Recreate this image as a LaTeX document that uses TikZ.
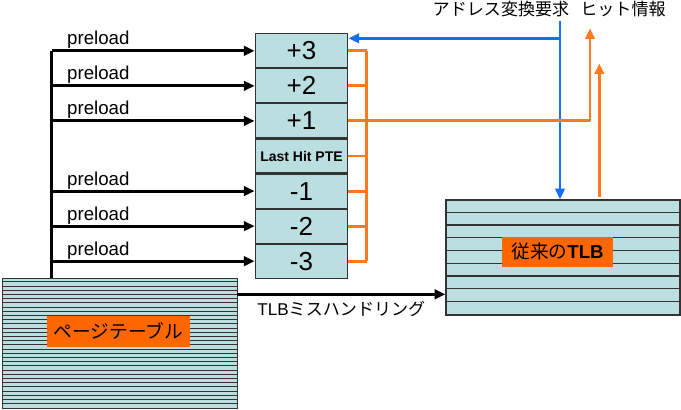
\documentclass[tikz,border=0pt]{standalone}
\usepackage{fontspec}
\setmainfont{Liberation Sans}
\newfontfamily\cjk{Noto Sans CJK JP}
\usetikzlibrary{arrows.meta,positioning}
\definecolor{cellblue}{RGB}{187,223,225}
\definecolor{hitorange}{RGB}{255,122,30}
\definecolor{labelorange}{RGB}{255,102,0}
\definecolor{reqblue}{RGB}{20,110,255}
\begin{document}
\begin{tikzpicture}[x=0.75pt,y=-0.75pt,>={Triangle[length=8pt,width=7pt]},
  pte/.style={draw=black!80,fill=cellblue,line width=0.8pt,minimum width=69.5pt,minimum height=25.5pt,inner sep=0pt,font=\fontsize{19.5}{21}\selectfont},
  tablebox/.style={draw=black!80,fill=cellblue,line width=0.9pt,inner sep=0pt},
  namebox/.style={fill=labelorange,inner sep=0pt,font=\cjk\fontsize{14}{16}\selectfont},
  feed/.style={line width=2.2pt,->},
  hit/.style={hitorange,line width=2.2pt,line join=round},
  req/.style={reqblue,line width=2.2pt},
  preload/.style={above right,inner sep=0.5pt,xshift=10pt,font=\fontsize{14}{16}\selectfont},
  jp/.style={font=\cjk\fontsize{12.8}{14}\selectfont}]
\useasboundingbox (0,0) rectangle (681,410);

\node[pte] (p3) at (301.5,50.8) {+3};
\node[pte,below=0pt of p3] (p2) {+2};
\node[pte,below=0pt of p2] (p1) {+1};
\node[pte,below=0pt of p1,font=\bfseries\fontsize{10.5}{12}\selectfont] (lasthit) {Last Hit PTE};
\node[pte,below=0pt of lasthit] (m1) {-1};
\node[pte,below=0pt of m1] (m2) {-2};
\node[pte,below=0pt of m2] (m3) {-3};

\node[tablebox,minimum width=175.5pt,minimum height=86.25pt] (tlb) at (563,257.5) {};
\foreach \k in {1,...,8}
  \draw[black!80,line width=0.9pt] ([yshift=-\k*9.58pt]tlb.north west) -- ([yshift=-\k*9.58pt]tlb.north east);
\node[namebox,minimum width=83.7pt,minimum height=22.5pt] (tlbname) at (557.5,251.7) {従来の{\rmfamily\bfseries TLB}};

\node[tablebox,minimum width=176pt,minimum height=97.5pt] (pt) at (120,343.3) {};
\foreach \k in {1,...,30}
  \draw[black!80,line width=0.6pt] ([yshift=-\k*3.145pt]pt.north west) -- ([yshift=-\k*3.145pt]pt.north east);
\node[namebox,minimum width=107.5pt,minimum height=23.25pt] (ptname) at (118.3,331.2) {ページテーブル};

\node[jp] (reqtext) at (501,9) {アドレス変換要求};
\node[jp] (hittext) at (623,9) {ヒット情報};

\coordinate (bus) at (51.7,53.3);
\draw[line width=2.2pt] (bus |- pt.north) -- (bus |- p3);
\foreach \cn in {p3,p2,p1,m1,m2,m3}
  \draw[feed] (bus |- \cn) -- node[preload,pos=0] {preload} (\cn.west);

\coordinate (miss) at (237.3,294.3);
\draw[feed] (miss) -- node[below=1pt,font=\fontsize{12.8}{14}\selectfont] {TLB{\cjk ミスハンドリング}} (miss -| tlb.west);

\coordinate (req) at (560,20.7);
\coordinate (reqsplit) at (560,38.3);
\draw[req,->] (req) -- (req |- tlb.north);
\draw[req,->] (reqsplit) -- (reqsplit -| p3.east);

\coordinate (rail) at (366.7,50.8);
\foreach \cn in {p3,p2,p1,lasthit,m1,m2,m3}
  \draw[hit] (\cn.east) -- (\cn.east -| rail);
\draw[hit] (rail |- p3) -- (rail |- m3);
\coordinate (hitout) at (590,28.3);
\draw[hit,->] (rail |- p1) -| (hitout);
\coordinate (tlbhit) at (599.3,63.3);
\draw[hit,->] ([yshift=2pt]tlb.north -| tlbhit) -- (tlbhit);
\end{tikzpicture}
\end{document}
